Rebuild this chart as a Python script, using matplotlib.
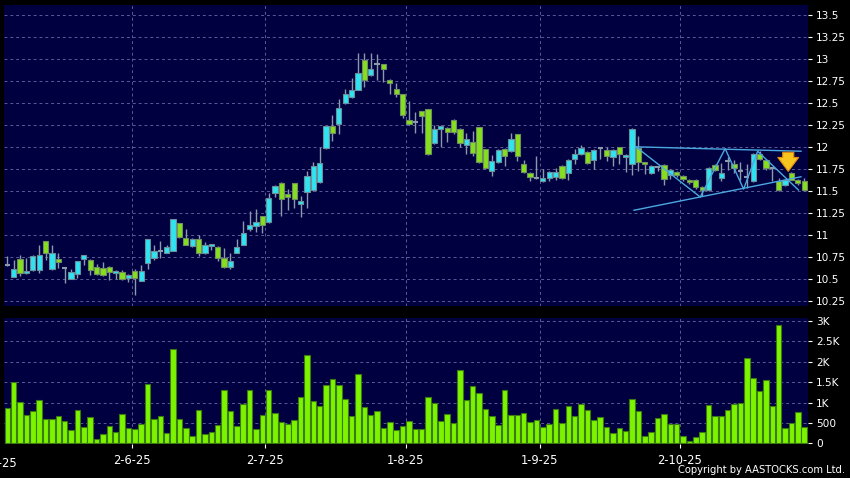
import matplotlib
matplotlib.use("Agg")
import matplotlib.pyplot as plt
import matplotlib.transforms as mtransforms
import numpy as np

# OHLC (one entry per trading day)
opens = [10.66, 10.52, 10.73, 10.57, 10.60, 10.60, 10.93, 10.61, 10.73, 10.62,
         10.50, 10.56, 10.73, 10.72, 10.64, 10.62, 10.64, 10.57, 10.58, 10.51,
         10.59, 10.48, 10.68, 10.74, 10.82, 10.80, 10.82, 11.13, 10.97, 10.87,
         10.95, 10.79, 10.87, 10.86, 10.74, 10.64, 10.80, 10.89, 11.07, 11.10,
         11.21, 11.15, 11.48, 11.59, 11.47, 11.59, 11.35, 11.49, 11.51, 11.60,
         11.99, 12.24, 12.26, 12.50, 12.56, 12.65, 12.99, 12.81, 12.94, 12.94,
         12.76, 12.66, 12.60, 12.30, 12.28, 12.41, 12.43, 12.04, 12.20, 12.21,
         12.31, 12.20, 12.02, 12.05, 12.23, 11.97, 11.72, 11.83, 11.98, 11.95,
         12.15, 11.80, 11.70, 11.65, 11.61, 11.65, 11.66, 11.78, 11.70, 11.86,
         11.92, 11.94, 11.85, 11.99, 11.96, 11.88, 12.00, 11.88, 11.80, 11.99,
         11.81, 11.70, 11.77, 11.79, 11.68, 11.71, 11.67, 11.62, 11.62, 11.54,
         11.51, 11.79, 11.645, 11.84, 11.80, 11.73, 11.66, 11.61, 11.92, 11.85,
         11.755, 11.61, 11.57, 11.70, 11.625, 11.61]
highs = [10.76, 10.72, 10.77, 10.74, 10.77, 10.89, 10.93, 10.89, 10.79, 10.62,
         10.61, 10.70, 10.77, 10.73, 10.67, 10.69, 10.65, 10.60, 10.60, 10.56,
         10.61, 10.66, 10.95, 10.88, 10.93, 10.89, 11.18, 11.13, 11.07, 10.96,
         11.00, 10.92, 10.88, 10.87, 10.85, 10.79, 10.95, 11.16, 11.27, 11.29,
         11.22, 11.48, 11.57, 11.60, 11.52, 11.59, 11.44, 11.73, 11.83, 12.00,
         12.24, 12.36, 12.54, 12.66, 12.78, 13.06, 13.06, 13.06, 13.05, 12.94,
         12.77, 12.72, 12.60, 12.52, 12.40, 12.41, 12.43, 12.25, 12.25, 12.22,
         12.32, 12.21, 12.16, 12.18, 12.23, 11.98, 11.91, 11.97, 11.99, 12.16,
         12.15, 11.85, 11.71, 11.90, 11.75, 11.72, 11.76, 11.79, 11.86, 11.97,
         12.02, 11.95, 11.97, 12.00, 12.00, 11.97, 12.00, 11.92, 12.21, 12.12,
         11.82, 11.79, 11.78, 11.80, 11.75, 11.72, 11.68, 11.63, 11.63, 11.55,
         11.77, 11.80, 11.82, 11.89, 11.85, 11.83, 11.80, 11.93, 11.95, 11.86,
         11.76, 11.645, 11.63, 11.71, 11.63, 11.645]
lows = [10.65, 10.52, 10.53, 10.56, 10.59, 10.57, 10.72, 10.60, 10.63, 10.45,
        10.50, 10.51, 10.66, 10.54, 10.55, 10.53, 10.49, 10.50, 10.49, 10.46,
        10.32, 10.48, 10.61, 10.72, 10.74, 10.80, 10.82, 10.97, 10.88, 10.86,
        10.76, 10.78, 10.83, 10.70, 10.63, 10.61, 10.79, 10.88, 11.05, 11.03,
        11.02, 11.13, 11.43, 11.22, 11.28, 11.30, 11.20, 11.30, 11.50, 11.59,
        11.98, 12.07, 12.15, 12.49, 12.55, 12.64, 12.68, 12.80, 12.76, 12.74,
        12.60, 12.56, 12.33, 12.25, 12.16, 12.16, 11.91, 12.03, 12.00, 12.05,
        12.15, 12.00, 11.92, 11.90, 11.82, 11.75, 11.67, 11.82, 11.78, 11.94,
        11.84, 11.70, 11.61, 11.63, 11.60, 11.61, 11.62, 11.63, 11.62, 11.80,
        11.91, 11.80, 11.75, 11.86, 11.84, 11.78, 11.81, 11.71, 11.68, 11.73,
        11.69, 11.69, 11.73, 11.57, 11.63, 11.66, 11.61, 11.58, 11.52, 11.44,
        11.50, 11.73, 11.61, 11.74, 11.70, 11.625, 11.53, 11.60, 11.85, 11.74,
        11.61, 11.50, 11.56, 11.62, 11.57, 11.50]
closes = [10.66, 10.61, 10.57, 10.59, 10.76, 10.77, 10.79, 10.79, 10.69, 10.62,
          10.58, 10.70, 10.77, 10.60, 10.56, 10.54, 10.58, 10.59, 10.50, 10.55,
          10.51, 10.59, 10.95, 10.82, 10.82, 10.86, 11.18, 10.98, 10.89, 10.95,
          10.79, 10.89, 10.88, 10.74, 10.64, 10.70, 10.86, 11.02, 11.11, 11.15,
          11.11, 11.42, 11.56, 11.41, 11.43, 11.41, 11.38, 11.67, 11.78, 11.82,
          12.24, 12.16, 12.44, 12.60, 12.65, 12.84, 12.76, 12.88, 12.94, 12.88,
          12.72, 12.60, 12.36, 12.26, 12.28, 12.35, 11.92, 12.20, 12.24, 12.17,
          12.17, 12.04, 12.09, 11.93, 11.83, 11.76, 11.84, 11.96, 11.90, 12.09,
          11.90, 11.71, 11.66, 11.65, 11.65, 11.71, 11.71, 11.65, 11.85, 11.92,
          11.99, 11.82, 11.96, 11.99, 11.90, 11.96, 11.92, 11.90, 12.20, 11.83,
          11.80, 11.78, 11.77, 11.63, 11.74, 11.68, 11.63, 11.60, 11.54, 11.51,
          11.76, 11.74, 11.70, 11.84, 11.755, 11.73, 11.66, 11.92, 11.86, 11.76,
          11.755, 11.51, 11.625, 11.625, 11.59, 11.51]
volumes = [874, 1495, 1013, 694, 784, 1062, 605, 605, 662, 556,
           335, 817, 392, 645, 106, 221, 433, 278, 719, 376,
           359, 482, 1446, 596, 670, 245, 2312, 596, 384, 180,
           825, 229, 278, 441, 1307, 792, 417, 956, 1315, 343,
           703, 1299, 743, 531, 482, 572, 1127, 2173, 1038, 923,
           1438, 1577, 1430, 1087, 678, 1708, 882, 694, 792, 368,
           531, 319, 417, 556, 359, 351, 1127, 980, 556, 719,
           498, 1789, 1070, 1397, 1234, 850, 670, 449, 1299, 694,
           686, 743, 531, 572, 409, 466, 850, 507, 907, 670,
           956, 817, 572, 654, 400, 253, 376, 302, 1078, 784,
           188, 286, 629, 719, 466, 466, 172, 49, 155, 278,
           940, 670, 670, 817, 964, 980, 2100, 1610, 1291, 1544,
           915, 2892, 376, 507, 768, 409]

# month separators (bar index - 0.5) and their labels
month_pos = [19.5, 40.5, 62.5, 83.5, 105.5]
month_labels = ['2-6-25', '2-7-25', '1-8-25', '1-9-25', '2-10-25']
first_label_pos = -1.5
first_label = '2-5-25'

price_ticks = [10.25, 10.5, 10.75, 11, 11.25, 11.5, 11.75, 12, 12.25, 12.5, 12.75, 13, 13.25, 13.5]
price_labels = ['10.25', '10.5', '10.75', '11', '11.25', '11.5', '11.75', '12', '12.25',
                '12.5', '12.75', '13', '13.25', '13.5']
vol_ticks = [0, 500, 1000, 1500, 2000, 2500, 3000]
vol_labels = ['0', '500', '1K', '1.5K', '2K', '2.5K', '3K']

# hand-drawn pattern lines (bar index, price)
zigzag_x = [98.6, 108.7, 112.6, 115.5, 117.7, 124.1]
zigzag_y = [12.00, 11.43, 11.98, 11.52, 11.95, 11.51]
top_line_x = [98.6, 124.5]
top_line_y = [12.00, 11.95]
low_line_x = [98.3, 124.5]
low_line_y = [11.28, 11.66]
arrow_x = 122.5
arrow_top, arrow_tip = 11.97, 11.69

bg = '#000040'
cyan = '#2fe3f0'
green = '#86df1e'
vol_green = '#7cf400'
grid_c = '#5a5a96'
line_c = '#4aa8e0'

o = np.array(opens); h = np.array(highs); l = np.array(lows); c = np.array(closes)
x = np.arange(len(o))

fig = plt.figure(figsize=(8.5, 4.78), dpi=100, facecolor='black')
ax = fig.add_axes([4/850, 1 - 306/478, 804/850, 301/478])
axv = fig.add_axes([4/850, 1 - 444/478, 804/850, 125.7/478])

for a in (ax, axv):
    a.set_facecolor(bg)
    for s in a.spines.values():
        s.set_visible(False)
    a.set_xlim(-0.52, 125.6)
    for m in month_pos:
        a.axvline(m, color=grid_c, lw=0.7, ls=(0, (3, 3)), zorder=0)
    a.yaxis.tick_right()
    a.tick_params(axis='y', colors='white', labelcolor='white', length=3, width=0.8,
                  labelsize=7.6, pad=3)

# price panel
ax.set_ylim(10.193, 13.61)
ax.set_yticks(price_ticks)
ax.set_yticklabels(price_labels)
for p in price_ticks:
    ax.axhline(p, color=grid_c, lw=0.7, ls=(0, (3, 3)), zorder=0)
ax.set_xticks([])

ax.vlines(x, l, h, color='#8a9aaa', lw=1.0, zorder=2)
up = c > o
down = c < o
flat = c == o
w = 0.83
body_lo = np.minimum(o, c)
body_h = np.maximum(np.abs(c - o), 0.025)
ax.bar(x[up], body_h[up], bottom=body_lo[up], width=w, color=cyan,
       edgecolor='#6a8f9a', linewidth=0.8, zorder=3)
ax.bar(x[down], body_h[down], bottom=body_lo[down], width=w, color=green,
       edgecolor='#6f8f60', linewidth=0.8, zorder=3)
ax.hlines(o[flat], x[flat] - w / 2, x[flat] + w / 2, color='#8a9aaa', lw=1.5, zorder=3)

# pattern lines and arrow
ax.plot(zigzag_x, zigzag_y, color=line_c, lw=1.0, zorder=4)
ax.plot(top_line_x, top_line_y, color=line_c, lw=1.0, zorder=4)
ax.plot(low_line_x, low_line_y, color=line_c, lw=1.0, zorder=4)
ax.annotate('', xy=(arrow_x, arrow_tip), xytext=(arrow_x, arrow_top),
            arrowprops=dict(arrowstyle='simple,head_width=1.5,head_length=1.0,tail_width=0.8',
                            facecolor='#f7c51e', edgecolor='#e08a10', lw=0.8),
            zorder=5)

# volume panel
axv.set_ylim(-15, 3066)
axv.set_yticks(vol_ticks)
axv.set_yticklabels(vol_labels)
for v in vol_ticks[1:]:
    axv.axhline(v, color=grid_c, lw=0.7, ls=(0, (3, 3)), zorder=0)
axv.bar(x, volumes, width=0.86, color=vol_green, edgecolor='#3c7a12', linewidth=0.8, zorder=3)
axv.set_xticks(month_pos)
axv.set_xticklabels(month_labels)
axv.tick_params(axis='x', colors='white', labelcolor='white', length=3, width=0.8,
                labelsize=8.3, pad=4)
trans = mtransforms.blended_transform_factory(axv.transData, axv.transAxes)
axv.text(first_label_pos, -0.1, first_label, transform=trans, color='white',
         fontsize=8.3, ha='center', va='top', clip_on=False)

fig.text(845/850, 1 - 470/478, 'Copyright by AASTOCKS.com Ltd.', color='white',
         fontsize=7.2, ha='right', va='center')

fig.savefig('out.png', dpi=100, facecolor='black')
